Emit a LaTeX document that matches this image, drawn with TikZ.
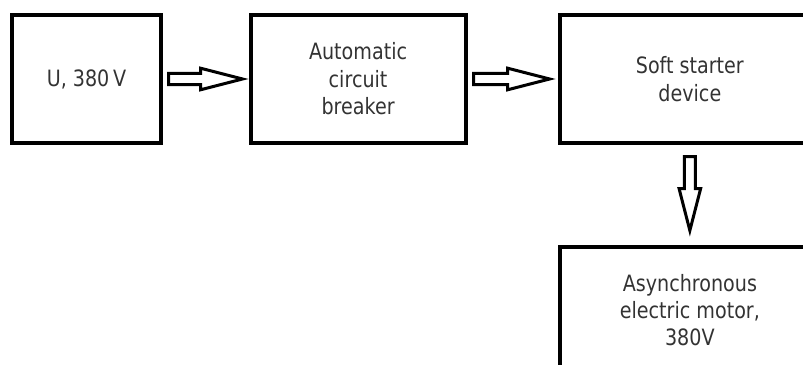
\documentclass[tikz,border=0pt]{standalone}
\usepackage{fontspec}
\setmainfont{DejaVu Sans}[FakeStretch=0.85]
\usepackage{xcolor}
\usepackage{tikz}
\usetikzlibrary{calc,positioning}
\definecolor{labelgray}{HTML}{333333}

\begin{document}
\begin{tikzpicture}[x=0.025cm,y=-0.025cm,
    block/.style={draw,line width=0.1cm,minimum height=3.175cm,align=center,
      text=labelgray,font=\fontsize{16}{19.5}\selectfont},
    hollow/.style={line width=0.075cm,miter limit=10,
      to path={
        ($(\tikztostart)!0.14cm!90:(\tikztotarget)$)
        -- ($(\tikztotarget)!1.05cm!(\tikztostart)!0.14cm!90:(\tikztotarget)$)
        -- ($(\tikztotarget)!1.05cm!(\tikztostart)!0.27cm!90:(\tikztotarget)$)
        -- (\tikztotarget)
        -- ($(\tikztotarget)!1.05cm!(\tikztostart)!0.27cm!270:(\tikztotarget)$)
        -- ($(\tikztotarget)!1.05cm!(\tikztostart)!0.14cm!270:(\tikztotarget)$)
        -- ($(\tikztostart)!0.14cm!270:(\tikztotarget)$) -- cycle}}]
    \useasboundingbox (0,0) rectangle (803,365);
    \clip (0,0) rectangle (803,365);

    % Supply, breaker and soft starter in one row.
    \node[block,minimum width=3.7cm] (source) at (86.5,79) {U, 380\,V};
    \node[block,minimum width=5.375cm,right=2.15cm of source] (breaker)
      {Automatic\\circuit\\breaker};
    \node[block,minimum width=6.51cm,right=2.25cm of breaker] (starter)
      {Soft starter\\device};

    % Motor below the soft starter (cut by the page edge).
    \node[block,minimum width=6.51cm,below=2.5cm of starter] (motor)
      {Asynchronous\\electric motor,\\380V};

    % Hollow block arrows.
    \draw[hollow] ([xshift=0.15cm]source.east) to ([xshift=-0.15cm]breaker.west);
    \draw[hollow] ([xshift=0.15cm]breaker.east) to ([xshift=-0.2cm]starter.west);
    \draw[hollow] ([yshift=-0.3cm]starter.south) to ([yshift=0.35cm]motor.north);
\end{tikzpicture}
\end{document}
